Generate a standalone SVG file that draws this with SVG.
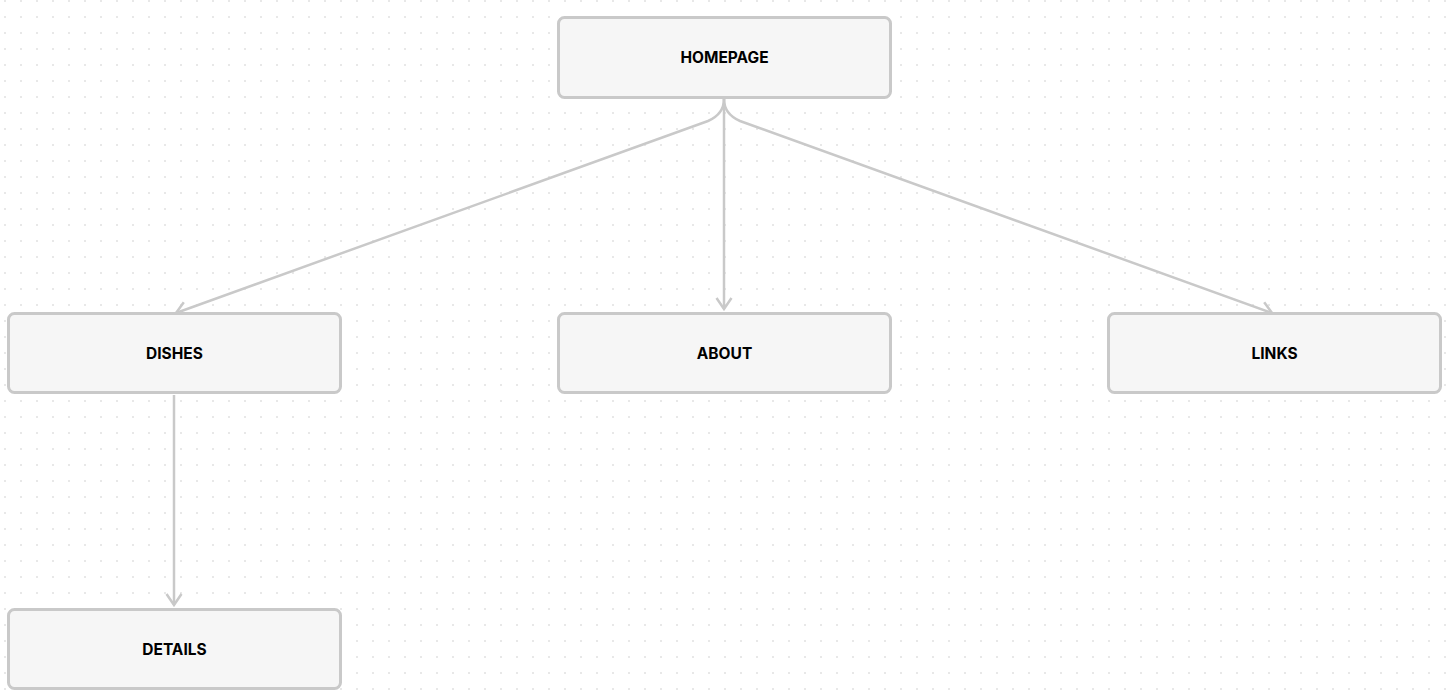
<svg xmlns="http://www.w3.org/2000/svg" width="1449" height="696" viewBox="0 0 1449 696">
<style>
.node rect{fill:#f6f6f6;stroke:#c9c9c9;stroke-width:3}
.node text{font-family:Inter,"Liberation Sans",sans-serif;font-weight:700;font-size:15.5px;fill:#000;text-anchor:middle;dominant-baseline:central}
.edge{fill:none;stroke:#c9c9c9;stroke-width:2.5;marker-end:url(#arr)}
</style>
<defs>
<pattern id="dots" x="0" y="0" width="16" height="16" patternUnits="userSpaceOnUse">
<rect x="4" y="0" width="2" height="2" fill="#e8e8e8"/>
</pattern>
<marker id="arr" viewBox="-14 -9 16 18" markerWidth="16" markerHeight="18" refX="0" refY="0" orient="auto" markerUnits="userSpaceOnUse">
<path d="M-11,-7.5 L0,0 L-11,7.5" fill="none" stroke="#c9c9c9" stroke-width="2.5"/>
</marker>
</defs>
<rect width="1449" height="696" fill="#ffffff"/>
<rect width="1449" height="696" fill="url(#dots)"/>
<g id="connectors">
<path class="edge" d="M724,99 Q724,114 708,121 L176,313"/>
<path class="edge" d="M724,99 L724,309"/>
<path class="edge" d="M724,99 Q724,114 740,121 L1272,313"/>
<path class="edge" d="M174,395 L174,605"/>
</g>
<g id="homepage" class="node"><rect x="558.5" y="17.5" width="332" height="80" rx="6"/><text x="724.5" y="57.5">HOMEPAGE</text></g>
<g id="dishes" class="node"><rect x="8.5" y="313.5" width="332" height="79" rx="6"/><text x="174.5" y="353">DISHES</text></g>
<g id="about" class="node"><rect x="558.5" y="313.5" width="332" height="79" rx="6"/><text x="724.5" y="353">ABOUT</text></g>
<g id="links" class="node"><rect x="1108.5" y="313.5" width="332" height="79" rx="6"/><text x="1274.5" y="353">LINKS</text></g>
<g id="details" class="node"><rect x="8.5" y="609.5" width="332" height="79" rx="6"/><text x="174.5" y="649">DETAILS</text></g>
</svg>
